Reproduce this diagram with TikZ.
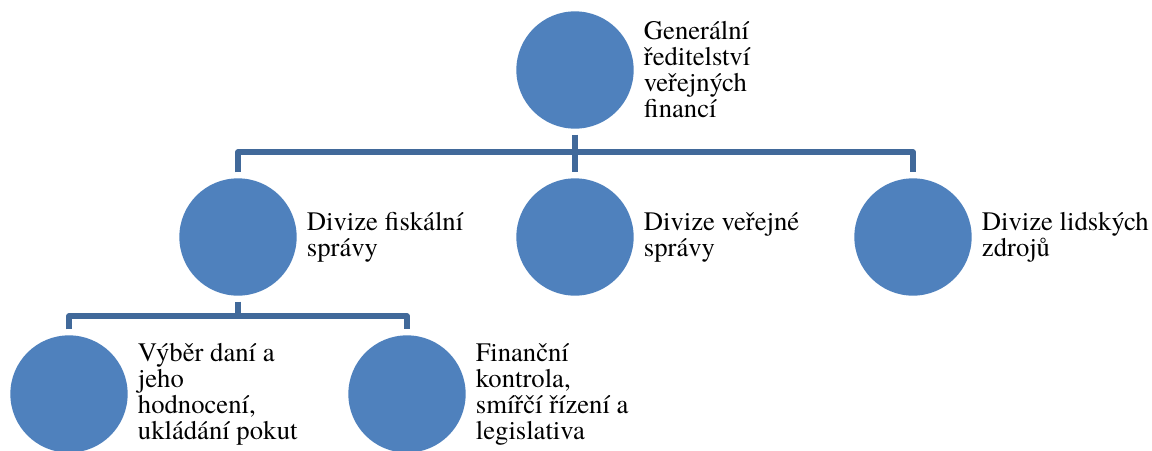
\documentclass[tikz,border=0pt]{standalone}
\usepackage{fontspec}
\setmainfont{TeX Gyre Termes}
\newfontfamily\notefont{TeX Gyre Termes}
\usetikzlibrary{positioning}
\definecolor{unitblue}{HTML}{4F81BD}
\definecolor{linkblue}{HTML}{41699A}

\begin{document}
\begin{tikzpicture}[
    x=0.75pt, y=-0.75pt,
    node distance=3pt,
    unit/.style={circle, fill=unitblue, minimum size=88pt, inner sep=0pt, outer sep=4.5pt},
    note/.style={anchor=west, align=left, inner sep=0pt, font=\notefont\fontsize{20}{19.5}\selectfont},
    conn/.style={draw=linkblue, line width=4.2pt, line join=round}
]
    \useasboundingbox (0,0) rectangle (1152,450);

    \node[unit] (gen) at (575,70) {};
    \node[unit] (fisk) at (238,237) {};
    \node[unit] (verej) at (575,237) {};
    \node[unit] (lids) at (913,237) {};
    \node[unit] (vyber) at (69,394) {};
    \node[unit] (kontr) at (407,394) {};

    \coordinate (hub1) at (575,152);
    \coordinate (hub2) at (238,316);

    \draw[conn] (gen) -- (hub1);
    \draw[conn] (fisk) |- (hub1) -| (lids);
    \draw[conn] (hub1) -- (verej);
    \draw[conn] (fisk) -- (hub2);
    \draw[conn] (vyber) |- (hub2) -| (kontr);

    \node[note, right=of gen] (gentext) {Generální\\ředitelství\\veřejných\\financí};
    \node[note, right=of fisk] (fisktext) {Divize fiskální\\správy};
    \node[note, right=of verej] (verejtext) {Divize veřejné\\správy};
    \node[note, right=of lids] (lidstext) {Divize lidských\\zdrojů};
    \node[note, right=of vyber] (vybertext) {Výběr daní a\\jeho\\hodnocení,\\ukládání pokut};
    \node[note, right=of kontr] (kontrtext) {Finanční\\kontrola,\\smířčí řízení a\\legislativa};
\end{tikzpicture}
\end{document}
